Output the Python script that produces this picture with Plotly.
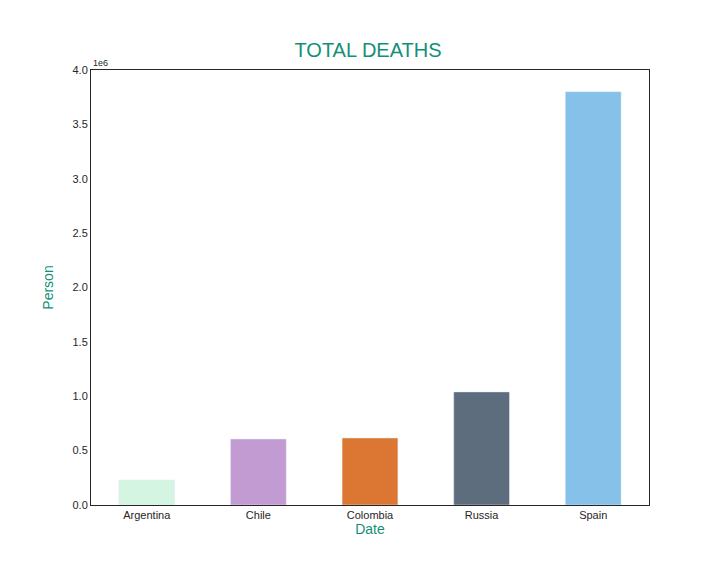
import plotly.graph_objects as go

countries = ["Argentina", "Chile", "Colombia", "Russia", "Spain"]
deaths = [230000, 607000, 616000, 1040000, 3800000]
colors = ["#d5f5e3", "#c39bd3", "#dc7633", "#5d6d7e", "#85c1e9"]
TEAL = "#148f77"

fig = go.Figure(go.Bar(x=countries, y=deaths, marker_color=colors, width=0.5))

fig.update_layout(
    width=720, height=576,
    paper_bgcolor="white", plot_bgcolor="white",
    margin=dict(l=83, r=79, t=62, b=79),
    font=dict(family="Liberation Sans", size=11, color="#262626"),
    title=dict(text="TOTAL DEATHS", x=0.5, xanchor="center", y=0.915, yanchor="bottom",
               font=dict(size=20, color=TEAL)),
    showlegend=False,
)
fig.update_xaxes(range=[-0.5, 4.5], showline=True, linecolor="#262626", mirror=True,
                 ticks="", title=dict(text="Date", font=dict(size=14, color=TEAL), standoff=2))
fig.update_yaxes(range=[0, 4.0e6], tickvals=[i * 5e5 for i in range(9)],
                 ticktext=[f"{i*0.5:.1f}" for i in range(9)],
                 showline=True, linecolor="#262626", mirror=True, showgrid=False, zeroline=False,
                 ticks="", title=dict(text="Person", font=dict(size=14, color=TEAL)))
fig.add_annotation(text="1e6", xref="paper", yref="paper", x=0, y=1, xanchor="left",
                   yanchor="bottom", showarrow=False, font=dict(size=9, color="#262626"))

fig.write_html("out.html")
